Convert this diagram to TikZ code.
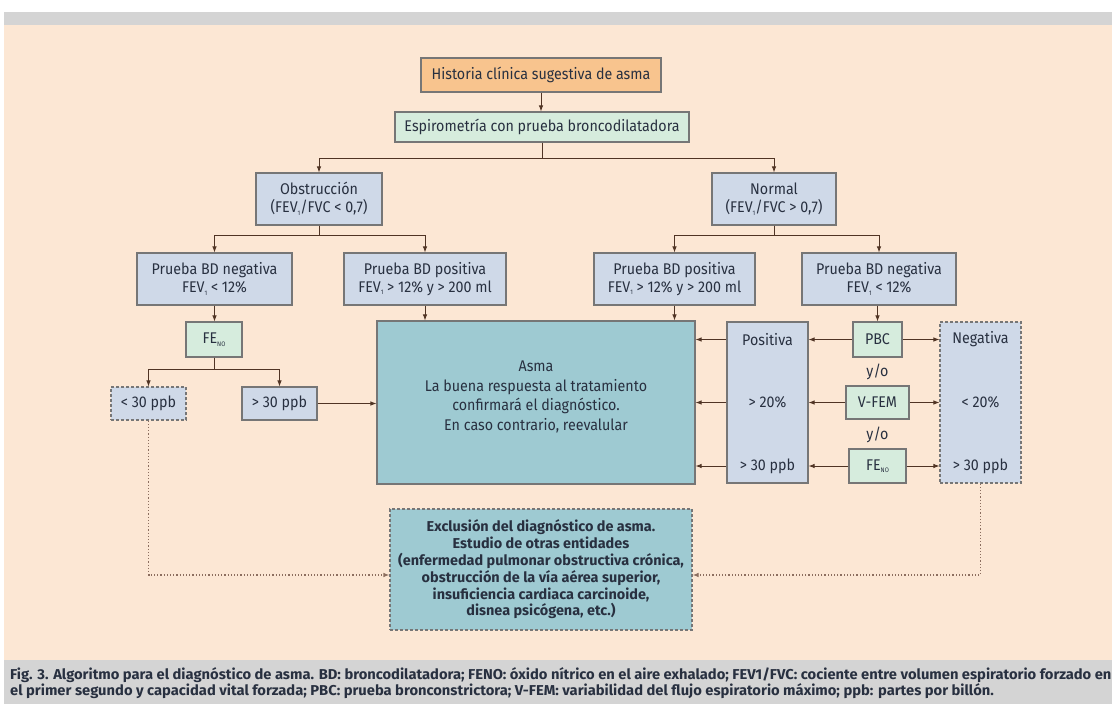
\documentclass[tikz,border=0pt]{standalone}
\usepackage{fontspec}
\setmainfont{Fira Sans}[FakeStretch=0.92]
\newfontfamily\capfont{Fira Sans}[FakeStretch=1.03]
\newfontfamily\exfont{Fira Sans}[FakeStretch=1.01]
\usetikzlibrary{arrows.meta}
\definecolor{peach}{RGB}{252,231,212}
\definecolor{barg}{RGB}{212,212,212}
\definecolor{orangeb}{RGB}{248,196,142}
\definecolor{greenb}{RGB}{214,236,221}
\definecolor{blueb}{RGB}{207,217,232}
\definecolor{tealb}{RGB}{158,202,210}
\definecolor{edgec}{RGB}{118,118,118}
\definecolor{txt}{RGB}{40,48,64}
\definecolor{arrc}{RGB}{80,52,36}
\definecolor{dotc}{RGB}{140,110,95}
\newcommand\sbs[1]{\raisebox{-2.5pt}{\fontsize{6.5}{6.5}\selectfont #1}}
\tikzset{
  wh/.style 2 args={minimum width=#1, minimum height=#2},
  box/.style={draw=edgec, line width=1.1pt, text=txt, align=center, inner sep=0pt,
    font=\fontsize{15.5}{18}\selectfont},
  bluebox/.style={box, fill=blueb},
  greenbox/.style={box, fill=greenb},
  orangebox/.style={box, fill=orangeb},
  tealbox/.style={box, fill=tealb},
  dashbox/.style={dash pattern=on 3pt off 2pt},
  lbl/.style={text=txt, inner sep=0pt, align=center, font=\fontsize{15.5}{18}\selectfont},
  arr/.style={draw=arrc, line width=0.9pt, -{Latex[length=6pt,width=4.5pt]}},
  dotarr/.style={draw=dotc, line width=1.1pt, dash pattern=on 1.2pt off 2pt,
    -{Latex[length=6pt,width=4.5pt]}},
  captext/.style={anchor=west, inner sep=0pt, text=txt,
    font=\capfont\bfseries\fontsize{14.3}{16}\selectfont}
}
\begin{document}
\begin{tikzpicture}[x=1pt,y=-1pt]
\useasboundingbox (0,0) rectangle (1112,704);
\fill[white] (0,0) rectangle (1112,704);
\fill[barg] (4,12) rectangle (1112,25);
\fill[peach] (4,25) rectangle (1112,660);
\fill[barg] (4,660) rectangle (1112,704);

\node[orangebox, wh={240}{34}] (hist) at (541,75) {Historia clínica sugestiva de asma};
\node[greenbox, wh={294}{30}] (esp) at (542,127) {Espirometría con prueba broncodilatadora};
\node[bluebox, wh={126}{52}] (obs) at (319,199) {Obstrucción\\(FEV\sbs{1}/FVC < 0,7)};
\node[bluebox, wh={124}{52}] (nor) at (774,199) {Normal\\(FEV\sbs{1}/FVC > 0,7)};
\node[bluebox, wh={155}{52}] (pnl) at (214.5,279) {Prueba BD negativa\\FEV\sbs{1} < 12\%};
\node[bluebox, wh={162}{52}] (ppl) at (425,279) {Prueba BD positiva\\FEV\sbs{1} > 12\% y > 200 ml};
\node[bluebox, wh={161}{52}] (ppr) at (674.5,279) {Prueba BD positiva\\FEV\sbs{1} > 12\% y > 200 ml};
\node[bluebox, wh={154}{52}] (pnr) at (879,279) {Prueba BD negativa\\FEV\sbs{1} < 12\%};
\node[greenbox, wh={56}{35}] (fel) at (214,339.5) {FE\sbs{NO}};
\node[bluebox, dashbox, wh={75}{33}] (lt30) at (148.5,403.5) {< 30 ppb};
\node[bluebox, wh={75}{33}] (gt30) at (279.5,403.5) {> 30 ppb};
\node[tealbox, wh={318}{163}] (asma) at (536,402.5) {};
\node[lbl, font=\fontsize{15.5}{19.5}\selectfont] (asmatext) at (536,397)
  {Asma\\La buena respuesta al tratamiento\\confirmará el diagnóstico.\\En caso contrario, reevalular};
\node[bluebox, wh={81}{161}] (pos) at (767.5,402.5) {};
\node[greenbox, wh={49}{35}] (pbc) at (877.5,339.5) {PBC};
\node[greenbox, wh={63}{33}] (vfem) at (877.5,402.5) {V-FEM};
\node[greenbox, wh={57}{34}] (fer) at (877.5,466) {FE\sbs{NO}};
\node[bluebox, dashbox, wh={81}{161}] (neg) at (980.5,402.5) {};
\node[tealbox, dashbox, wh={302}{121}, font=\exfont\bfseries\fontsize{14.3}{16.8}\selectfont] (excl) at (541,569.5)
  {Exclusión del diagnóstico de asma.\\Estudio de otras entidades\\(enfermedad pulmonar obstructiva crónica,\\obstrucción de la vía aérea superior,\\insuficiencia cardiaca carcinoide,\\disnea psicógena, etc.)};

\node[lbl] (posa) at (767.5,339.5) {Positiva};
\node[lbl] (posb) at (767.5,402.5) {> 20\%};
\node[lbl] (posc) at (767.5,466) {> 30 ppb};
\node[lbl] (nega) at (980.5,339.5) {Negativa};
\node[lbl] (negb) at (980.5,402.5) {< 20\%};
\node[lbl] (negc) at (980.5,466) {> 30 ppb};
\node[lbl] (yo1) at (877.5,371.5) {y/o};
\node[lbl] (yo2) at (877.5,435) {y/o};

\draw[arr] (hist.south) -- (hist.south |- esp.north);
\draw[arr] (esp.south) -- ++(0,16) -| (obs.north);
\draw[arr] (esp.south) -- ++(0,16) -| (nor.north);
\draw[arr] (obs.south) -- ++(0,10) -| (pnl.north);
\draw[arr] (obs.south) -- ++(0,10) -| (ppl.north);
\draw[arr] (nor.south) -- ++(0,10) -| (ppr.north);
\draw[arr] (nor.south) -- ++(0,10) -| (pnr.north);
\draw[arr] (pnl.south) -- (pnl.south |- fel.north);
\draw[arr] (fel.south) -- ++(0,12) -| (lt30.north);
\draw[arr] (fel.south) -- ++(0,12) -| (gt30.north);
\draw[arr] (gt30.east) -- (gt30.east -| asma.west);
\draw[arr] (ppl.south) -- (ppl.south |- asma.north);
\draw[arr] (ppr.south) -- (ppr.south |- asma.north);
\draw[arr] (pbc.north |- pnr.south) -- (pbc.north);
\draw[arr] (pbc.west) -- (pbc.west -| pos.east);
\draw[arr] (pbc.east) -- (pbc.east -| neg.west);
\draw[arr] (vfem.west) -- (vfem.west -| pos.east);
\draw[arr] (vfem.east) -- (vfem.east -| neg.west);
\draw[arr] (fer.west) -- (fer.west -| pos.east);
\draw[arr] (fer.east) -- (fer.east -| neg.west);
\draw[arr] (pos.west |- pbc.west) -- (asma.east |- pbc.west);
\draw[arr] (pos.west |- vfem.west) -- (asma.east |- vfem.west);
\draw[arr] (pos.west |- fer.west) -- (asma.east |- fer.west);
\draw[dotarr] (lt30.south) |- ([yshift=-5.5pt]excl.west);
\draw[dotarr] (neg.south) |- ([yshift=-5.5pt]excl.east);

\node[captext] (cap1) at (10,675) {Fig. 3. Algoritmo para el diagnóstico de asma. BD: broncodilatadora; FENO: óxido nítrico en el aire exhalado; FEV1/FVC: cociente entre volumen espiratorio forzado en};
\node[captext] (cap2) at (10,691) {el primer segundo y capacidad vital forzada; PBC: prueba bronconstrictora; V-FEM: variabilidad del flujo espiratorio máximo; ppb: partes por billón.};
\end{tikzpicture}
\end{document}
